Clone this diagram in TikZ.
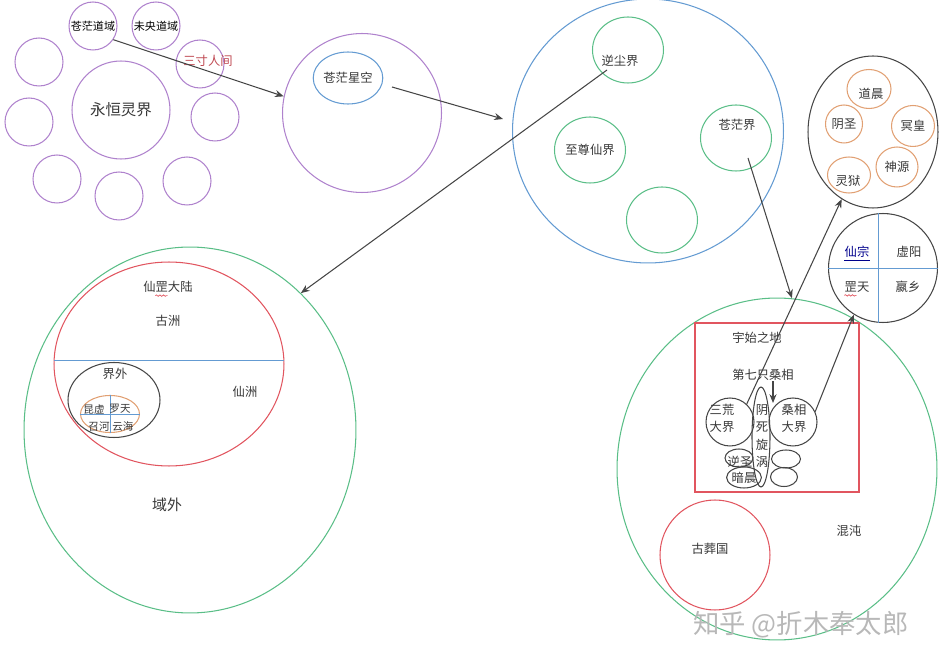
\documentclass[tikz,border=0pt]{standalone}
\usepackage{fontspec}
\setmainfont{Noto Sans CJK SC}
\usetikzlibrary{positioning, arrows.meta, shapes.geometric, decorations.pathmorphing}

\definecolor{ink}{RGB}{55,55,55}
\definecolor{graph}{RGB}{70,70,70}
\definecolor{lila}{RGB}{175,130,205}
\definecolor{sky}{RGB}{100,155,210}
\definecolor{mint}{RGB}{90,190,135}
\definecolor{rose}{RGB}{225,85,95}
\definecolor{peach}{RGB}{225,160,115}

\begin{document}
\begin{tikzpicture}[
    x=0.02cm, y=-0.02cm,
    ring/.style={
        circle,
        draw,
        inner sep=0pt,
        line width=0.6pt,
        text=ink,
        font=\fontsize{7}{8}\selectfont
    },
    oval/.style={
        ellipse,
        draw,
        inner sep=0pt,
        line width=0.6pt,
        text=ink,
        font=\fontsize{7}{8}\selectfont
    },
    lbl/.style={inner sep=0pt, text=ink, font=\fontsize{7}{8}\selectfont},
    tiny/.style={inner sep=0pt, text=ink, font=\fontsize{6}{7}\selectfont},
    arrow/.style={-{Stealth[length=5pt, width=4pt]}, draw=graph, line width=0.6pt},
    squiggle/.style={rose, line width=0.4pt, decorate,
        decoration={snake, amplitude=0.4pt, segment length=2pt}}
]
\useasboundingbox (0,0) rectangle (941,662);

% eternal realm cluster
\node[ring, draw=lila, minimum size=1.96cm, font=\fontsize{8.8}{10}\selectfont] (yhlj) at (121,110) {永恒灵界};
\node[ring, draw=lila, minimum size=0.96cm, font=\fontsize{6.3}{7}\selectfont, text=black] (cmdy) at (93,26) {苍茫道域};
\node[ring, draw=lila, minimum size=0.96cm, font=\fontsize{6.3}{7}\selectfont, text=black] (wydy) at (156,26) {未央道域};
\node[ring, draw=lila, minimum size=0.96cm] (scrj) at (200,64) {};
\node[lbl, text=rose!85!black] (scrjt) at (208,61) {三寸人间};
\node[ring, draw=lila, minimum size=0.96cm] (moon1) at (39,62) {};
\node[ring, draw=lila, minimum size=0.96cm] (moon2) at (29,122) {};
\node[ring, draw=lila, minimum size=0.96cm] (moon3) at (215,117) {};
\node[ring, draw=lila, minimum size=0.96cm] (moon4) at (57,179) {};
\node[ring, draw=lila, minimum size=0.96cm] (moon5) at (119,196) {};
\node[ring, draw=lila, minimum size=0.96cm] (moon6) at (187,181) {};

% starry sky
\node[ring, draw=lila, minimum size=3.18cm] (cmxk) at (362,113) {};
\node[oval, draw=sky, minimum width=1.18cm, minimum height=1.04cm] (xk) at (348,78) {苍茫星空};

% immortal world
\node[oval, draw=sky, minimum width=5.42cm, minimum height=5.28cm] (tj) at (648,131) {};
\node[oval, draw=mint, minimum width=1.42cm, minimum height=1.32cm] (ncj) at (628,50) {};
\node[lbl] (ncjt) at (620,61) {逆尘界};
\node[oval, draw=mint, minimum width=1.42cm, minimum height=1.32cm] (zzxj) at (590,150) {至尊仙界};
\node[oval, draw=mint, minimum width=1.42cm, minimum height=1.32cm] (cmj) at (736,138) {};
\node[lbl] (cmjt) at (737,125) {苍茫界};
\node[oval, draw=mint, minimum width=1.42cm, minimum height=1.32cm] (kong) at (662,220) {};

% five lords
\node[oval, draw=graph, minimum width=2.6cm, minimum height=3.04cm] (wu) at (873,132) {};
\node[oval, draw=peach, minimum width=0.88cm, minimum height=0.78cm] (dc) at (869,89) {};
\node[lbl] (dct) at (871,94) {道晨};
\node[oval, draw=peach, minimum width=0.74cm, minimum height=0.76cm] (ys) at (844,124) {阴圣};
\node[oval, draw=peach, minimum width=0.86cm, minimum height=0.82cm] (mh) at (913,126) {冥皇};
\node[oval, draw=peach, minimum width=0.84cm, minimum height=0.8cm] (sy) at (897,167) {神源};
\node[oval, draw=peach, minimum width=0.86cm, minimum height=0.72cm] (ly) at (849,175) {};
\node[lbl] (lyt) at (848,181) {灵狱};

% four sects
\node[ring, draw=graph, minimum size=2.18cm] (xy) at (883,268) {};
\draw[sky] (xy.95) -- (xy.265);
\draw[sky] (xy.180) -- (xy.0);
\node[lbl, text=blue!55!black] (xz) at (857,252) {仙宗};
\draw[blue!55!black, line width=0.4pt] ([yshift=-1.5pt]xz.south west) -- ([yshift=-1.5pt]xz.south east);
\node[lbl] (xyang) at (909,252) {虚阳};
\node[lbl] (gt) at (857,287) {罡天};
\draw[squiggle] ([yshift=-1.5pt]gt.south west) -- ([yshift=-1.5pt, xshift=7pt]gt.south west);
\node[lbl] (yx) at (908,287) {嬴乡};

% outer domain
\node[oval, draw=mint, minimum width=6.64cm, minimum height=7.32cm] (yw) at (190,430) {};
\node[lbl, font=\fontsize{8.5}{10}\selectfont] (ywt) at (167,505) {域外};
\node[oval, draw=rose, minimum width=4.6cm, minimum height=4.08cm] (xgdl) at (169,364) {};
\draw[sky] (xgdl.178) -- (xgdl.2);
\node[lbl] (xgdlt) at (168,287) {仙罡大陆};
\draw[squiggle] ([yshift=-1.5pt, xshift=7pt]xgdlt.south west) -- ([yshift=-1.5pt, xshift=14pt]xgdlt.south west);
\node[lbl] (gzhou) at (168,321) {古洲};
\node[lbl] (xzhou) at (245,392) {仙洲};
\node[oval, draw=graph, minimum width=1.84cm, minimum height=1.5cm] (jw) at (114,400) {};
\node[lbl] (jwt) at (115,374) {界外};
\node[oval, draw=peach, minimum width=1.18cm, minimum height=0.74cm] (kx) at (110,414) {};
\draw[sky] (kx.north) -- (kx.south);
\draw[sky] (kx.west) -- (kx.east);
\node[tiny] (kxt) at (94,409) {昆虚};
\node[tiny] (lt) at (120,409) {罗天};
\node[tiny] (zh) at (99,427) {召河};
\node[tiny] (yh) at (123,427) {云海};

% chaos
\node[oval, draw=mint, minimum width=6.4cm, minimum height=6.84cm] (hd) at (777,469) {};
\node[lbl] (hdt) at (849,531) {混沌};
\node[draw=rose, line width=0.6pt, inner sep=0pt, minimum width=3.28cm, minimum height=3.38cm] (ysz) at (777,407.5) {};
\node[lbl] (yszt) at (757,338) {宇始之地};
\node[lbl] (dqz) at (763,375) {第七只桑相};
\coordinate (dqin) at (773,403);
\draw[arrow] (dqz.south -| dqin) -- (dqin);
\node[ring, draw=graph, minimum size=0.96cm] (shdj) at (730,422) {};
\node[lbl, align=center, font=\fontsize{7}{9.7}\selectfont] (shdjt) at (722,418) {三荒\\大界};
\node[ring, draw=graph, minimum size=0.96cm] (sxdj) at (793,422) {};
\node[lbl, align=center, font=\fontsize{7}{9.7}\selectfont] (sxdjt) at (794,418) {桑相\\大界};
\node[oval, draw=graph, minimum width=0.36cm, minimum height=2cm] (ysxw) at (761,437) {};
\node[lbl, align=center, font=\fontsize{7}{10}\selectfont] (ysxwt) at (762,436) {阴\\死\\旋\\涡};
\node[oval, draw=graph, minimum width=0.56cm, minimum height=0.36cm] (ns) at (739,458) {};
\node[lbl] (nst) at (740,462) {逆圣};
\node[oval, draw=graph, minimum width=0.48cm, minimum height=0.42cm] (ac) at (744,477.5) {暗晨};
\node[oval, draw=graph, minimum width=0.58cm, minimum height=0.36cm] (r1) at (786,459) {};
\node[oval, draw=graph, minimum width=0.54cm, minimum height=0.38cm] (r2) at (784,477) {};
\node[ring, draw=rose, minimum size=2.2cm] (gzg) at (715,555) {};
\node[lbl] (gzgt) at (710,549) {古葬国};

\node[inner sep=0pt, text=black!28, font=\fontsize{15}{18}\selectfont] (sign) at (801,625) {知乎 @折木奉太郎};

% links
\coordinate (xkout) at (392,87);
\coordinate (tjin) at (503,119);
\coordinate (ncout) at (607,70);
\coordinate (cmout) at (748,158);
\draw[arrow] (cmdy.-34) -- (cmxk.168);
\draw[arrow] (xkout) -- (tjin);
\draw[arrow] (ncout) -- (yw.51);
\draw[arrow] (cmout) -- (hd.85);
\draw[arrow] (shdj.47) -- (wu.245);
\draw[arrow] (sxdj.25) -- (xy.238);

\end{tikzpicture}
\end{document}
